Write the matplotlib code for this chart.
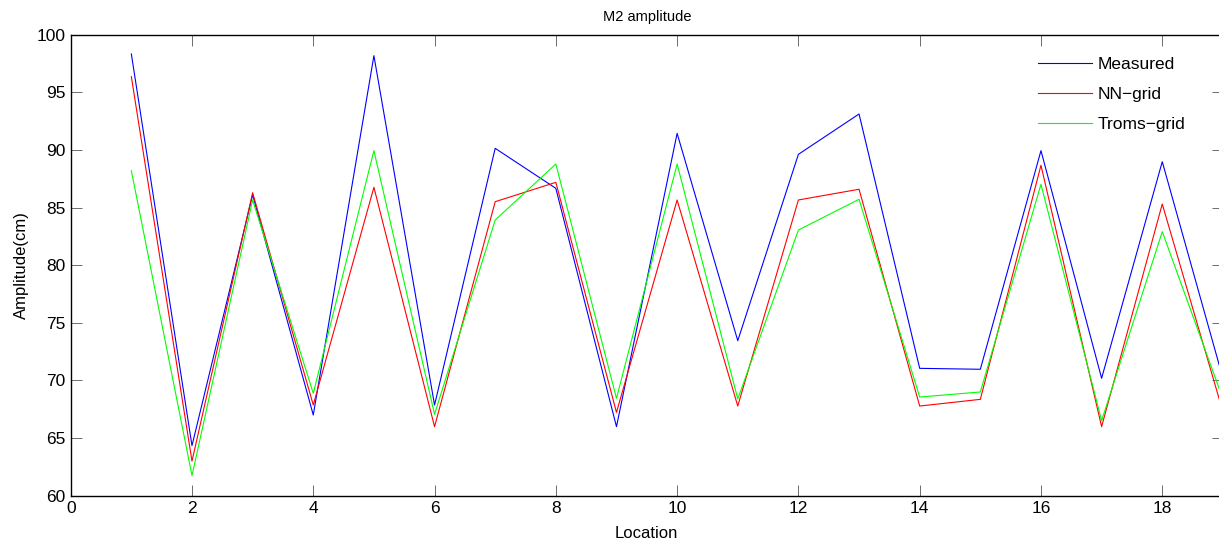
import matplotlib
matplotlib.use("Agg")
import matplotlib.pyplot as plt

plt.rcParams['font.family'] = ['Liberation Sans', 'DejaVu Sans']

locations = list(range(1, 20))
measured = [98.33, 64.34, 86.1, 67.0, 98.18, 67.87, 90.14, 86.67, 65.99, 91.44,
            73.45, 89.62, 93.12, 71.05, 70.97, 89.94, 70.19, 88.98, 70.2]
nn_grid = [96.36, 63.0, 86.29, 67.87, 86.76, 65.99, 85.51, 87.19, 67.23, 85.66,
           67.78, 85.66, 86.59, 67.78, 68.36, 88.67, 65.99, 85.31, 67.3]
troms_grid = [88.2, 61.74, 85.66, 68.88, 89.94, 67.06, 83.92, 88.78, 68.45, 88.78,
              68.39, 83.05, 85.72, 68.56, 69.0, 87.02, 66.51, 82.91, 68.4]

W, H = 1219, 544
fig = plt.figure(figsize=(W / 100, H / 100), dpi=100)
left, right, top, bottom = 70.7, 1222.9, 34.7, 495.7
ax = fig.add_axes([left / W, 1 - bottom / H, (right - left) / W, (bottom - top) / H])

ax.plot(locations, measured, color='#0000ff', lw=0.8, label='Measured')
ax.plot(locations, nn_grid, color='#ff0000', lw=0.8, label='NN\u2212grid')
ax.plot(locations, troms_grid, color='#00ff00', lw=0.8, label='Troms\u2212grid')

ax.set_xlim(0, 19)
ax.set_ylim(60, 100)
ax.set_xticks(range(0, 19, 2))
ax.set_yticks(range(60, 101, 5))
ax.tick_params(direction='in', length=8, width=0.6, top=True, right=True,
               labelsize=12.5, color='#555555', pad=4)
for s in ax.spines.values():
    s.set_linewidth(1.0)

ax.set_title('M2 amplitude', fontsize=10.5, pad=10)
ax.set_xlabel('Location', fontsize=12, labelpad=7)
ax.set_ylabel('Amplitude(cm)', fontsize=12, labelpad=5)

hx = (1038 - left) / (right - left)
hy = (bottom - 57) / (bottom - top)
leg = ax.legend(loc='upper left', bbox_to_anchor=(hx, hy), frameon=False,
                borderaxespad=0, borderpad=0,
                fontsize=12.5, handlelength=3.1, handletextpad=0.35, labelspacing=0.84)

fig.savefig('out.png', dpi=100)
